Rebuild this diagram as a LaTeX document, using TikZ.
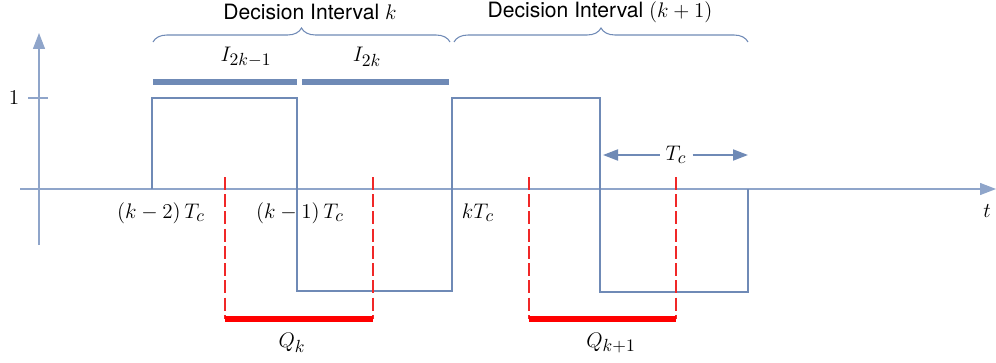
\documentclass[tikz,border=0pt]{standalone}
\usepackage{amsmath}
\usepackage{fontspec}
\setsansfont{TeX Gyre Heros}
\usepackage{tikz}
\usetikzlibrary{arrows.meta,decorations.pathreplacing}
\definecolor{wave}{HTML}{6F8AB6}
\definecolor{axis}{HTML}{8FA5CA}
\definecolor{cutred}{HTML}{F02828}
\DeclareMathSizes{12}{12}{10}{8}

\begin{document}
\begin{tikzpicture}[x=0.02cm,y=-0.02cm,
  font=\fontsize{12}{14}\selectfont,
  ax/.style={axis,line width=0.75pt},
  tip/.style={-{Triangle[length=0.32cm,width=0.24cm]}},
  sig/.style={wave,line width=1.5pt},
  ibar/.style={wave,line width=3.4pt},
  qbar/.style={red,line width=3.7pt},
  cut/.style={cutred,line width=0.6pt,dash pattern=on 7.4pt off 2.4pt},
  brc/.style={wave,line width=0.6pt,decorate,decoration={brace,amplitude=0.28cm}},
  dim/.style={wave,line width=1.1pt,-{Triangle[length=0.3cm,width=0.22cm]}},
  hdr/.style={font=\fontsize{12}{14}\selectfont\sffamily}]
  \useasboundingbox (0,0) rectangle (996,362);
  % axes
  \draw[ax,tip](39,245)--(39,33);
  \draw[ax,tip](20,189)--(996,189);
  \draw[ax](28,98)--(48,98);
  \node (one) at (14,98) {$1$};
  \node (t) at (987,211) {$t$};
  % signal
  \draw[sig](152,189)--(152,98)--(297,98)--(297,291)--(452,291)--(452,98)
    --(600,98)--(600,292)--(748,292)--(748,189);
  % time labels
  \node (km2) at (161,213) {$(k-2)\,T_c$};
  \node (km1) at (300,213) {$(k-1)\,T_c$};
  \node (k0)  at (478,213) {$kT_c$};
  % chip width
  \node (tc) at (676,155) {$T_c$};
  \draw[dim](tc.west)--(603,155);
  \draw[dim](tc.east)--(748,155);
  % integration windows
  \foreach \x in {225,373,529,676} \draw[cut](\x,177)--(\x,319);
  \draw[qbar](225,319)--(373,319);
  \draw[qbar](529,319)--(676,319);
  \node (qk)  at (292,343) {$Q_k$};
  \node (qk1) at (611,343) {$Q_{k+1}$};
  % in-phase chips
  \draw[ibar](153,82)--(297,82);
  \draw[ibar](302,82)--(449,82);
  \node (i1) at (246,57) {$I_{2k-1}$};
  \node (i2) at (367,57) {$I_{2k}$};
  % decision intervals
  \draw[brc](153,42)--(450,42);
  \draw[brc](454,42)--(748,42);
  \node[hdr] (dk)  at (310,12) {Decision Interval $k$};
  \node[hdr] (dk1) at (600,12) {Decision Interval $(k+1)$};
\end{tikzpicture}
\end{document}
